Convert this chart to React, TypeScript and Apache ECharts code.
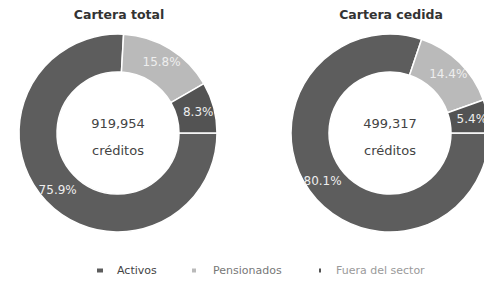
import React, { useEffect, useRef } from "react";
import * as echarts from "echarts";

const categories = ["Activos", "Pensionados", "Fuera del sector"];
const totalValues = [75.9, 15.8, 8.3];
const cedidaValues = [80.1, 14.4, 5.4];
const chartTitles = ["Cartera total", "Cartera cedida"];
const centerNumbers = ["919,954", "499,317"];
const centerUnit = "créditos";

const colors = ["#5d5d5d", "#bababa", "#535353"];
const legendTextColors = ["#444444", "#777777", "#9a9a9a"];
const legendLeft = [95, 190, 317];
const legendIcon = [
  [8, 6],
  [6, 6],
  [4, 6],
];
const legendPad = [8, 11, 9];

const FONT = "DejaVu Sans, Verdana, sans-serif";

export default function App() {
  const ref = useRef<HTMLDivElement>(null);
  useEffect(() => {
    document.body.style.margin = "0";
    if (!ref.current) return;
    const chart = echarts.init(ref.current, undefined, { renderer: "svg" });
    const centers = [
      [118, 133],
      [390, 133],
    ];
    const seriesData = [totalValues, cedidaValues];
    const series = seriesData.map((vals, si) => ({
      type: "pie",
      center: centers[si],
      radius: [61, 99],
      startAngle: 0,
      clockwise: true,
      silent: true,
      itemStyle: { borderColor: "#ffffff", borderWidth: 1.5 },
      label: {
        show: true,
        position: "inside",
        color: "#eeeeee",
        fontFamily: FONT,
        fontSize: 12,
        formatter: (p: any) => p.value.toFixed(1) + "%",
      },
      labelLine: { show: false },
      data: categories.map((c, i) => ({
        name: c,
        value: vals[i],
        itemStyle: { color: colors[i] },
      })),
    }));
    const graphics: any[] = [];
    centers.forEach((c, i) => {
      graphics.push({
        type: "text",
        x: c[0] + 1,
        y: 14,
        style: {
          text: chartTitles[i],
          fill: "#333333",
          font: `bold 12.5px ${FONT}`,
          textAlign: "center",
          textVerticalAlign: "middle",
        },
      });
      graphics.push({
        type: "text",
        x: c[0],
        y: 123,
        style: {
          text: centerNumbers[i],
          fill: "#444444",
          font: `13px ${FONT}`,
          textAlign: "center",
          textVerticalAlign: "middle",
        },
      });
      graphics.push({
        type: "text",
        x: c[0],
        y: 150,
        style: {
          text: centerUnit,
          fill: "#444444",
          font: `13px ${FONT}`,
          textAlign: "center",
          textVerticalAlign: "middle",
        },
      });
    });
    const legends = categories.map((c, i) => ({
      left: legendLeft[i],
      top: 265,
      padding: 0,
      icon: "rect",
      itemWidth: legendIcon[i][0],
      itemHeight: legendIcon[i][1],
      selectedMode: false,
      data: [{ name: c, itemStyle: { color: colors[i] } }],
      textStyle: {
        color: legendTextColors[i],
        fontFamily: FONT,
        fontSize: 11,
        padding: [0, 0, 0, legendPad[i]],
      },
    }));
    chart.setOption({
      animation: false,
      legend: legends,
      graphic: graphics,
      series,
    });
    return () => chart.dispose();
  }, []);
  return <div ref={ref} style={{ width: 484, height: 285 }} />;
}
